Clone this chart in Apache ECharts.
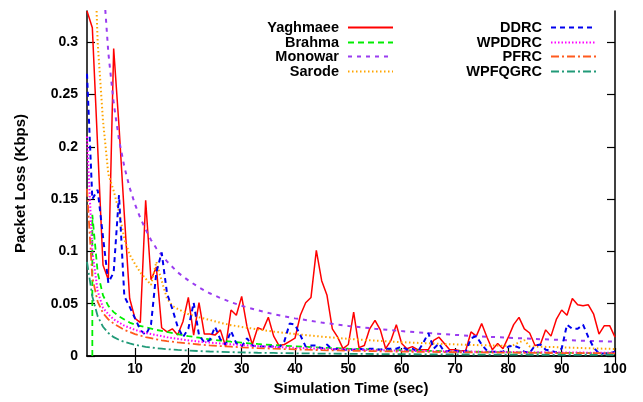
<!DOCTYPE html>
<html><head><meta charset="utf-8">
<script src="https://cdn.jsdelivr.net/npm/echarts@6/dist/echarts.min.js"></script>
<style>html,body{margin:0;padding:0;background:#fff}#c{width:643px;height:402px}</style>
</head><body><div id="c"></div>
<script>
// ---- data ----
const timeSec = [1,2,3,4,5,6,7,8,9,10,11,12,13,14,15,16,17,18,19,20,21,22,23,24,25,26,27,28,29,30,31,32,33,34,35,36,37,38,39,40,41,42,43,44,45,46,47,48,49,50,51,52,53,54,55,56,57,58,59,60,61,62,63,64,65,66,67,68,69,70,71,72,73,74,75,76,77,78,79,80,81,82,83,84,85,86,87,88,89,90,91,92,93,94,95,96,97,98,99,100];
const yaghmaee = [0.33,0.314,0.2,0.087,0.073,0.294,0.22,0.135,0.055,0.036,0.032,0.149,0.073,0.085,0.027,0.023,0.026,0.02,0.033,0.056,0.02,0.051,0.021,0.021,0.02,0.025,0.009,0.044,0.039,0.057,0.028,0.011,0.027,0.025,0.037,0.019,0.01,0.011,0.014,0.017,0.039,0.051,0.056,0.101,0.072,0.058,0.026,0.018,0.007,0.011,0.042,0.008,0.01,0.026,0.034,0.025,0.007,0.015,0.03,0.012,0.007,0.009,0.006,0.006,0.006,0.015,0.018,0.012,0.006,0.006,0.005,0.005,0.023,0.019,0.031,0.018,0.006,0.012,0.007,0.018,0.03,0.037,0.026,0.022,0.01,0.011,0.025,0.019,0.035,0.044,0.039,0.055,0.049,0.048,0.049,0.04,0.021,0.029,0.029,0.018];
const ddrc = [0.27,0.15,0.159,0.114,0.07,0.08,0.154,0.057,0.047,0.036,0.025,0.02,0.03,0.08,0.099,0.06,0.045,0.028,0.018,0.026,0.051,0.02,0.013,0.015,0.028,0.016,0.011,0.024,0.012,0.009,0.017,0.01,0.009,0.009,0.009,0.009,0.008,0.014,0.031,0.03,0.02,0.009,0.01,0.01,0.007,0.011,0.006,0.007,0.006,0.006,0.006,0.007,0.006,0.007,0.007,0.006,0.007,0.007,0.007,0.009,0.006,0.007,0.004,0.012,0.022,0.007,0.012,0.004,0.005,0.005,0.004,0.004,0.017,0.019,0.011,0.005,0.004,0.004,0.004,0.009,0.01,0.008,0.004,0.003,0.01,0.011,0.006,0.005,0.0035,0.007,0.03,0.026,0.026,0.03,0.018,0.008,0.0025,0.0025,0.0025,0.004];
const smoothTime = [1,2,3,4,5,6,7,8,9,10,11,12,13,14,15,16,18,20,22,24,26,28,30,33,36,40,45,50,55,60,65,70,75,80,85,90,95,100];
const monowar = [1.45,0.725,0.483,0.362,0.29,0.242,0.207,0.181,0.161,0.145,0.132,0.121,0.111,0.103,0.0965,0.0905,0.08,0.0723,0.0656,0.06,0.0555,0.0515,0.048,0.0437,0.04,0.036,0.032,0.0288,0.0261,0.0238,0.0219,0.0202,0.0187,0.0175,0.0163,0.0153,0.0144,0.0137];
const wpddrc = [0.21,0.1,0.062,0.046,0.04,0.035,0.032,0.029,0.027,0.025,0.0235,0.022,0.021,0.02,0.019,0.018,0.0165,0.015,0.0138,0.0128,0.012,0.0112,0.0105,0.0095,0.0087,0.0078,0.0069,0.0062,0.0056,0.0051,0.0047,0.0044,0.0041,0.0038,0.0036,0.0034,0.0032,0.003];
const pfrc = [0.16,0.075,0.052,0.041,0.035,0.031,0.028,0.025,0.023,0.021,0.0195,0.018,0.017,0.016,0.015,0.0143,0.013,0.012,0.011,0.0102,0.0095,0.0089,0.0083,0.0076,0.007,0.0063,0.0056,0.0051,0.0046,0.0042,0.0039,0.0036,0.0034,0.0032,0.003,0.0028,0.0027,0.0025];
const wpfqgrc = [0.09,0.057,0.038,0.028,0.022,0.018,0.0155,0.0135,0.012,0.0107,0.0097,0.0088,0.0081,0.0075,0.007,0.0065,0.0058,0.0052,0.0047,0.0043,0.004,0.0037,0.0034,0.0031,0.0029,0.0026,0.0023,0.0021,0.0019,0.0017,0.0016,0.0015,0.0014,0.0013,0.0012,0.0011,0.0011,0.001];
const brahmaTime = [2,2,3,4,5,6,7,8,9,10,12,14,16,18,20,22,24,26,28,30,33,36,40,45,50,55,60,65,70,75,80,85,90,95,100];
const brahma = [0,0.135,0.08,0.058,0.048,0.042,0.038,0.035,0.032,0.03,0.0275,0.025,0.023,0.021,0.019,0.0175,0.016,0.0148,0.0137,0.0127,0.0115,0.0104,0.0092,0.008,0.007,0.0062,0.0055,0.0049,0.0044,0.004,0.0036,0.0033,0.003,0.0028,0.0026];
const sarodeTime = [1,2,3,4,5,6,7,8,9,10,11,12,13,14,15,16,17,18,20,22,24,26,28,30,33,36,40,45,50,55,60,65,70,75,80,81,82,83,84,85,90,95,100];
const sarode = [0.9,0.45,0.3,0.225,0.174,0.158,0.138,0.112,0.097,0.088,0.08,0.074,0.068,0.09,0.072,0.055,0.048,0.045,0.04,0.037,0.0345,0.0318,0.0295,0.0278,0.0255,0.0233,0.021,0.0185,0.0164,0.0147,0.0132,0.0121,0.0111,0.0103,0.0097,0.0105,0.013,0.0152,0.0092,0.009,0.0083,0.0074,0.0067];
const xTicks = [10,20,30,40,50,60,70,80,90,100];
const yTicks = [0,0.05,0.1,0.15,0.2,0.25,0.3];
const names = ['Yaghmaee','Brahma','Monowar','Sarode','DDRC','WPDDRC','PFRC','WPFQGRC'];

// ---- chart ----
const FONT = 'Liberation Sans, Arial, sans-serif';
const pair = (xs, ys) => xs.map((x, i) => [x, ys[i]]);
const mk = (name, xs, ys, color, type, width) => ({
  name, type: 'line', data: pair(xs, ys), symbol: 'none', clip: true,
  lineStyle: { color, type, width }, itemStyle: { color }, silent: true, animation: false
});
const series = [
  mk(names[0], timeSec, yaghmaee, '#ff0000', 'solid', 1.5),
  mk(names[1], brahmaTime, brahma, '#00ee00', [6, 4], 1.8),
  mk(names[2], smoothTime, monowar, '#9a3cf0', [4, 5], 2),
  mk(names[3], sarodeTime, sarode, '#ffa500', [1.5, 2.5], 2),
  mk(names[4], timeSec, ddrc, '#0000ee', [5, 4], 2),
  mk(names[5], smoothTime, wpddrc, '#ff00ff', [1.5, 2], 2),
  mk(names[6], smoothTime, pfrc, '#ff5a1e', [8, 3, 2, 3], 1.8),
  mk(names[7], smoothTime, wpfqgrc, '#219a78', [8, 3, 2, 3], 1.8)
];
const legendText = { fontFamily: FONT, fontWeight: 'bold', fontSize: 14.5, color: '#000', padding: [0, 4, 0, 0] };
const legendTops = [20, 35, 49, 64];
const legends = names.map((n, i) => ({
  data: [n], orient: 'vertical', align: 'right', padding: 0,
  right: i < 4 ? 249 : 46, top: legendTops[i % 4],
  itemWidth: 45, itemHeight: 18, textStyle: legendText, selectedMode: false,
  itemStyle: { opacity: 0 }
}));
const axisLine = { show: true, lineStyle: { color: '#000', width: 1.5 } };
const tickStyle = { lineStyle: { color: '#000', width: 1.2 } };
const labelStyle = { fontFamily: FONT, fontWeight: 'bold', fontSize: 14, color: '#000' };
const titleStyle = { fontFamily: FONT, fontWeight: 'bold', fontSize: 15, color: '#000' };
const option = {
  backgroundColor: '#fff',
  animation: false,
  grid: { left: 87, right: 28, top: 11, bottom: 46, containLabel: false, outerBoundsMode: 'none' },
  legend: legends,
  xAxis: [
    { type: 'value', min: 1, max: 100, position: 'bottom',
      name: 'Simulation Time (sec)', nameLocation: 'middle', nameGap: 17,
      nameTextStyle: titleStyle,
      axisLine, splitLine: { show: false },
      axisTick: Object.assign({ show: true, inside: true, length: 8, customValues: xTicks }, tickStyle),
      axisLabel: Object.assign({ customValues: xTicks, margin: 6 }, labelStyle) },
    { type: 'value', min: 1, max: 100, position: 'top',
      axisLine, splitLine: { show: false },
      axisTick: Object.assign({ show: true, inside: true, length: 8, customValues: xTicks }, tickStyle),
      axisLabel: { show: false } }
  ],
  yAxis: [
    { type: 'value', min: 0, max: 0.33, position: 'left',
      name: 'Packet Loss (Kbps)', nameLocation: 'middle', nameGap: 59,
      nameTextStyle: titleStyle,
      axisLine, splitLine: { show: false },
      axisTick: Object.assign({ show: true, inside: true, length: 8, customValues: yTicks }, tickStyle),
      axisLabel: Object.assign({ customValues: yTicks, margin: 9,
        formatter: v => String(Math.round(v * 100) / 100) }, labelStyle) },
    { type: 'value', min: 0, max: 0.33, position: 'right',
      axisLine, splitLine: { show: false },
      axisTick: Object.assign({ show: true, inside: true, length: 8, customValues: yTicks }, tickStyle),
      axisLabel: { show: false } }
  ],
  series
};
const chart = echarts.init(document.getElementById('c'), null, { renderer: 'canvas' });
chart.setOption(option);
</script>
</body></html>
